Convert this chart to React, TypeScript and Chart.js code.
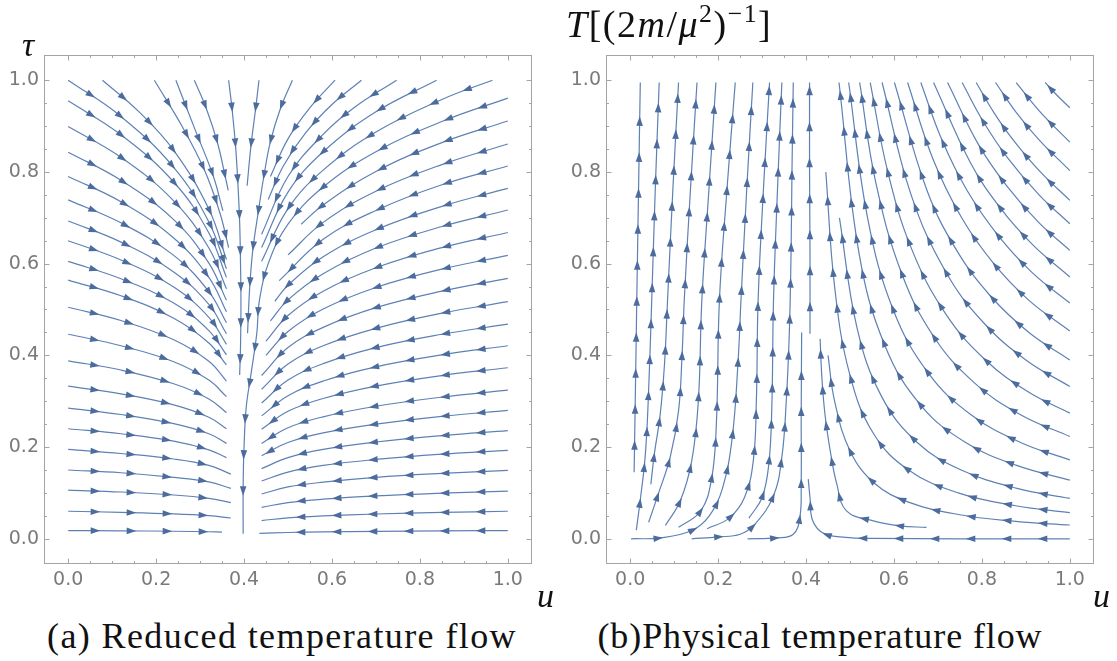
import React, { useEffect, useRef } from "react";
import { Chart, registerables } from "chart.js";
Chart.register(...registerables);

type Pt = [number, number];

const AXIS_MIN = -0.055;
const AXIS_MAX = 1.055;
const majorTicks = [0, 0.2, 0.4, 0.6, 0.8, 1.0];
const minorTicks = [0.05, 0.1, 0.15, 0.25, 0.3, 0.35, 0.45, 0.5, 0.55, 0.65, 0.7, 0.75, 0.85, 0.9, 0.95];

// ---------- (a) Reduced temperature flow : streamlines [u, tau] in flow order ----------
const reducedFromLeft: Pt[][] = [
  [[0, 1.0], [0.12, 0.921], [0.24, 0.81], [0.32, 0.691], [0.36, 0.589]],
  [[0, 0.955], [0.12, 0.881], [0.24, 0.778], [0.32, 0.667], [0.36, 0.57]],
  [[0, 0.899], [0.12, 0.832], [0.24, 0.737], [0.32, 0.634], [0.36, 0.545]],
  [[0, 0.843], [0.12, 0.782], [0.24, 0.696], [0.32, 0.601], [0.36, 0.52]],
  [[0, 0.79], [0.12, 0.735], [0.24, 0.656], [0.32, 0.57], [0.36, 0.495]],
  [[0, 0.739], [0.12, 0.689], [0.24, 0.618], [0.32, 0.539], [0.36, 0.471]],
  [[0, 0.693], [0.12, 0.647], [0.24, 0.582], [0.32, 0.511], [0.36, 0.447]],
  [[0, 0.65], [0.12, 0.608], [0.24, 0.549], [0.32, 0.483], [0.36, 0.424]],
  [[0, 0.605], [0.12, 0.567], [0.24, 0.514], [0.32, 0.454], [0.36, 0.401]],
  [[0, 0.564], [0.12, 0.53], [0.24, 0.481], [0.32, 0.427], [0.36, 0.379]],
  [[0, 0.505], [0.12, 0.476], [0.24, 0.434], [0.32, 0.387], [0.36, 0.344]],
  [[0, 0.446], [0.12, 0.421], [0.24, 0.386], [0.32, 0.346], [0.36, 0.31]],
  [[0, 0.388], [0.12, 0.368], [0.24, 0.338], [0.32, 0.305], [0.36, 0.275]],
  [[0, 0.333], [0.12, 0.316], [0.24, 0.292], [0.32, 0.265], [0.36, 0.24]],
  [[0, 0.285], [0.12, 0.271], [0.24, 0.251], [0.32, 0.229], [0.36, 0.208]],
  [[0, 0.24], [0.12, 0.229], [0.24, 0.213], [0.32, 0.194], [0.36, 0.177]],
  [[0, 0.195], [0.12, 0.186], [0.24, 0.174], [0.32, 0.16], [0.37, 0.141]],
  [[0, 0.15], [0.12, 0.144], [0.24, 0.134], [0.32, 0.124], [0.37, 0.11]],
  [[0, 0.106], [0.12, 0.102], [0.24, 0.0955], [0.32, 0.088], [0.37, 0.0789]],
  [[0, 0.06], [0.12, 0.0577], [0.24, 0.0544], [0.32, 0.0504], [0.37, 0.0453]],
  [[0, 0.018], [0.12, 0.0174], [0.24, 0.0164], [0.32, 0.0153], [0.35, 0.0146]],
];

const reducedFromTop: Pt[][] = [
  [[0.078, 1.0], [0.16, 0.932], [0.24, 0.847], [0.32, 0.719], [0.36, 0.609]],
  [[0.196, 1.0], [0.26, 0.898], [0.31, 0.804], [0.345, 0.711], [0.365, 0.635]],
  [[0.245, 1.0], [0.29, 0.889], [0.33, 0.791], [0.352, 0.715]],
  [[0.287, 1.0], [0.314, 0.939], [0.34, 0.862], [0.359, 0.782], [0.364, 0.76]],
  [[0.365, 1.0], [0.373, 0.935], [0.381, 0.853], [0.386, 0.775], [0.39, 0.691], [0.392, 0.6], [0.393, 0.52], [0.392, 0.42], [0.39, 0.357]],
  [[0.434, 1.0], [0.426, 0.935], [0.416, 0.859], [0.407, 0.77]],
  [[0.51, 1.0], [0.483, 0.939], [0.46, 0.866], [0.445, 0.79], [0.432, 0.71], [0.42, 0.63], [0.413, 0.55], [0.408, 0.448]],
  [[0.607, 1.0], [0.55, 0.94], [0.5, 0.872], [0.46, 0.79]],
  [[0.667, 1.0], [0.6, 0.947], [0.54, 0.885], [0.49, 0.814], [0.455, 0.74]],
  [[0.747, 1.0], [0.65, 0.94], [0.58, 0.882], [0.5, 0.79], [0.44, 0.664]],
  [[0.838, 1.0], [0.7, 0.931], [0.58, 0.844], [0.5, 0.756], [0.44, 0.635]],
  [[0.965, 1.0], [0.85, 0.958], [0.7, 0.887], [0.58, 0.804], [0.5, 0.72], [0.44, 0.605]],
];

const reducedFromRight: Pt[][] = [
  [[1, 0.961], [0.85, 0.91], [0.7, 0.844], [0.58, 0.767], [0.5, 0.686], [0.455, 0.6], [0.435, 0.52], [0.429, 0.448], [0.416, 0.36], [0.405, 0.287], [0.4, 0.2], [0.398, 0.113], [0.398, 0.011]],
  [[1, 0.911], [0.85, 0.864], [0.7, 0.801], [0.58, 0.728], [0.53, 0.686]],
  [[1, 0.861], [0.85, 0.816], [0.7, 0.758], [0.58, 0.69], [0.5, 0.619]],
  [[1, 0.813], [0.85, 0.772], [0.7, 0.716], [0.58, 0.653], [0.48, 0.563]],
  [[1, 0.764], [0.85, 0.725], [0.7, 0.674], [0.58, 0.615], [0.5, 0.553], [0.47, 0.518]],
  [[1, 0.717], [0.85, 0.681], [0.7, 0.634], [0.58, 0.578], [0.5, 0.521], [0.46, 0.475]],
  [[1, 0.668], [0.85, 0.635], [0.7, 0.591], [0.58, 0.54], [0.5, 0.487], [0.45, 0.431]],
  [[1, 0.618], [0.85, 0.588], [0.7, 0.548], [0.58, 0.501], [0.5, 0.452], [0.45, 0.4]],
  [[1, 0.568], [0.85, 0.54], [0.7, 0.504], [0.58, 0.461], [0.5, 0.417], [0.44, 0.356]],
  [[1, 0.517], [0.85, 0.492], [0.7, 0.459], [0.58, 0.421], [0.5, 0.381], [0.44, 0.326]],
  [[1, 0.468], [0.85, 0.446], [0.7, 0.417], [0.58, 0.382], [0.5, 0.346], [0.44, 0.296]],
  [[1, 0.421], [0.85, 0.401], [0.7, 0.375], [0.58, 0.344], [0.5, 0.312], [0.44, 0.268]],
  [[1, 0.373], [0.85, 0.356], [0.7, 0.333], [0.58, 0.306], [0.5, 0.278], [0.44, 0.239]],
  [[1, 0.324], [0.85, 0.309], [0.7, 0.289], [0.58, 0.266], [0.5, 0.242], [0.44, 0.208]],
  [[1, 0.28], [0.85, 0.267], [0.7, 0.25], [0.58, 0.231], [0.5, 0.21], [0.44, 0.181]],
  [[1, 0.236], [0.85, 0.225], [0.7, 0.211], [0.58, 0.195], [0.5, 0.177], [0.44, 0.153]],
  [[1, 0.193], [0.85, 0.1845], [0.7, 0.173], [0.58, 0.16], [0.5, 0.1455], [0.44, 0.126]],
  [[1, 0.149], [0.85, 0.1425], [0.7, 0.134], [0.58, 0.1235], [0.5, 0.113], [0.44, 0.0976]],
  [[1, 0.104], [0.85, 0.0995], [0.7, 0.0935], [0.58, 0.0864], [0.5, 0.0789], [0.44, 0.0685]],
  [[1, 0.06], [0.85, 0.0574], [0.7, 0.054], [0.58, 0.0499], [0.5, 0.0457], [0.44, 0.0397]],
  [[1, 0.018], [0.85, 0.0172], [0.7, 0.0162], [0.58, 0.015], [0.5, 0.0137], [0.435, 0.012]],
];

// ---------- (b) Physical temperature flow : streamlines [u, T] in flow order ----------
const physicalRising: Pt[][] = [
  [[0.009, 0.145], [0.012, 0.33], [0.015, 0.52], [0.019, 0.76], [0.023, 0.995]],
  [[0.014, 0.019], [0.023, 0.085], [0.034, 0.178], [0.041, 0.3], [0.049, 0.52], [0.057, 0.76], [0.066, 0.995]],
  [[0.047, 0.119], [0.055, 0.185], [0.068, 0.269], [0.078, 0.38], [0.085, 0.52], [0.097, 0.76], [0.11, 0.995]],
  [[0.042, 0.036], [0.064, 0.098], [0.091, 0.178], [0.11, 0.279], [0.118, 0.4], [0.123, 0.52], [0.137, 0.76], [0.152, 0.995]],
  [[0.08, 0.029], [0.114, 0.083], [0.14, 0.17], [0.155, 0.3], [0.163, 0.52], [0.179, 0.76], [0.195, 0.995]],
  [[0.11, 0.025], [0.16, 0.06], [0.185, 0.13], [0.196, 0.25], [0.203, 0.52], [0.22, 0.76], [0.239, 0.995]],
  [[0.002, 0.0], [0.07, 0.002], [0.14, 0.018], [0.18, 0.05], [0.21, 0.11], [0.232, 0.22], [0.245, 0.38], [0.252, 0.52], [0.265, 0.76], [0.279, 0.995]],
  [[0.175, 0.022], [0.225, 0.045], [0.26, 0.09], [0.28, 0.17], [0.287, 0.3], [0.291, 0.52], [0.303, 0.76], [0.317, 0.995]],
  [[0.27, 0.045], [0.3, 0.09], [0.315, 0.16], [0.322, 0.28], [0.326, 0.52], [0.335, 0.76], [0.345, 0.995]],
  [[0.14, 0.0], [0.2, 0.004], [0.25, 0.01], [0.284, 0.032], [0.326, 0.094], [0.345, 0.178], [0.355, 0.3], [0.362, 0.45], [0.366, 0.629], [0.368, 0.8], [0.371, 0.995]],
  [[0.267, 0.0], [0.333, 0.002], [0.371, 0.01], [0.386, 0.047], [0.389, 0.119], [0.389, 0.265], [0.39, 0.45]],
  [[0.409, 0.447], [0.409, 0.629], [0.408, 0.8], [0.408, 0.995]],
];

const physicalFromRight: Pt[][] = [
  [[1.0, 0.0], [0.75, 0.0], [0.55, 0.001], [0.49, 0.003], [0.44, 0.012], [0.415, 0.04], [0.409, 0.09], [0.405, 0.13]],
  [[0.674, 0.025], [0.614, 0.028], [0.553, 0.039], [0.492, 0.061], [0.47, 0.119], [0.455, 0.192], [0.443, 0.272], [0.436, 0.352], [0.432, 0.436]],
  [[1.0, 0.03], [0.877, 0.038], [0.746, 0.053], [0.633, 0.08], [0.557, 0.12], [0.501, 0.19], [0.465, 0.3], [0.45, 0.4]],
  [[1.0, 0.057], [0.877, 0.072], [0.746, 0.1], [0.633, 0.15], [0.553, 0.23], [0.499, 0.36], [0.465, 0.55], [0.445, 0.8]],
  [[1.0, 0.088], [0.88, 0.11], [0.753, 0.15], [0.653, 0.21], [0.572, 0.31], [0.516, 0.46], [0.476, 0.7]],
  [[1.0, 0.128], [0.879, 0.16], [0.763, 0.21], [0.662, 0.29], [0.58, 0.42], [0.521, 0.62], [0.475, 0.995]],
  [[1.0, 0.172], [0.888, 0.21], [0.776, 0.27], [0.679, 0.36], [0.598, 0.5], [0.54, 0.7], [0.497, 0.995]],
  [[1.0, 0.223], [0.889, 0.27], [0.783, 0.34], [0.691, 0.44], [0.617, 0.58], [0.558, 0.78], [0.522, 0.995]],
  [[1.0, 0.274], [0.906, 0.32], [0.808, 0.39], [0.718, 0.49], [0.641, 0.63], [0.586, 0.8], [0.546, 0.995]],
  [[1.0, 0.332], [0.9, 0.39], [0.805, 0.47], [0.719, 0.58], [0.639, 0.75], [0.573, 0.995]],
  [[1.0, 0.39], [0.907, 0.45], [0.819, 0.53], [0.742, 0.63], [0.675, 0.76], [0.601, 0.995]],
  [[1.0, 0.453], [0.907, 0.52], [0.827, 0.6], [0.754, 0.7], [0.688, 0.83], [0.631, 0.995]],
  [[1.0, 0.514], [0.915, 0.58], [0.838, 0.66], [0.766, 0.76], [0.709, 0.87], [0.661, 0.995]],
  [[1.0, 0.571], [0.917, 0.64], [0.843, 0.72], [0.774, 0.82], [0.69, 0.995]],
  [[1.0, 0.629], [0.929, 0.69], [0.856, 0.77], [0.792, 0.86], [0.722, 0.995]],
  [[1.0, 0.687], [0.93, 0.75], [0.859, 0.83], [0.803, 0.91], [0.755, 0.995]],
  [[1.0, 0.738], [0.933, 0.8], [0.871, 0.87], [0.827, 0.93], [0.787, 0.995]],
  [[1.0, 0.803], [0.93, 0.87], [0.878, 0.93], [0.831, 0.995]],
  [[1.0, 0.865], [0.943, 0.92], [0.907, 0.96], [0.878, 0.995]],
  [[1.0, 0.94], [0.968, 0.97], [0.944, 0.995]],
];

// ---------- styling ----------
const LINE_COLOR = "rgb(94,129,181)";
const ARROW_COLOR = "rgb(76,108,158)";
const FRAME_COLOR = "#a4a4a4";
const TICK_LABEL_COLOR = "#7a7a7a";

function drawArrow(ctx: CanvasRenderingContext2D, x: number, y: number, ang: number) {
  const c = Math.cos(ang), s = Math.sin(ang);
  const front = 5, back = 4.5, half = 3.3;
  ctx.beginPath();
  ctx.moveTo(x + c * front, y + s * front);
  ctx.lineTo(x - c * back - s * half, y - s * back + c * half);
  ctx.lineTo(x - c * back + s * half, y - s * back - c * half);
  ctx.closePath();
  ctx.fill();
}

const arrowPlugin = {
  id: "streamArrows",
  afterDatasetsDraw(chart: any) {
    const ctx: CanvasRenderingContext2D = chart.ctx;
    ctx.save();
    ctx.fillStyle = ARROW_COLOR;
    const FIRST = 27, SPACING = 36, END_GAP = 8;
    chart.data.datasets.forEach((_: any, di: number) => {
      const meta = chart.getDatasetMeta(di);
      if (meta.dataset && meta.dataset.updateControlPoints) {
        meta.dataset.updateControlPoints(chart.chartArea, "x");
      }
      const pts: any[] = meta.data;
      if (!pts || pts.length < 2) return;
      const poly: number[][] = [[pts[0].x, pts[0].y]];
      for (let i = 0; i < pts.length - 1; i++) {
        const a = pts[i], b = pts[i + 1];
        const c1x = a.cp2x ?? a.x, c1y = a.cp2y ?? a.y;
        const c2x = b.cp1x ?? b.x, c2y = b.cp1y ?? b.y;
        for (let k = 1; k <= 20; k++) {
          const t = k / 20, m = 1 - t;
          const x = m * m * m * a.x + 3 * m * m * t * c1x + 3 * m * t * t * c2x + t * t * t * b.x;
          const y = m * m * m * a.y + 3 * m * m * t * c1y + 3 * m * t * t * c2y + t * t * t * b.y;
          poly.push([x, y]);
        }
      }
      const cum = [0];
      for (let i = 1; i < poly.length; i++) {
        cum.push(cum[i - 1] + Math.hypot(poly[i][0] - poly[i - 1][0], poly[i][1] - poly[i - 1][1]));
      }
      const total = cum[cum.length - 1];
      let j = 1;
      for (let d = FIRST; d < total - END_GAP; d += SPACING) {
        while (j < poly.length - 1 && cum[j] < d) j++;
        const seg = cum[j] - cum[j - 1] || 1;
        const f = (d - cum[j - 1]) / seg;
        const x = poly[j - 1][0] + (poly[j][0] - poly[j - 1][0]) * f;
        const y = poly[j - 1][1] + (poly[j][1] - poly[j - 1][1]) * f;
        const ang = Math.atan2(poly[j][1] - poly[j - 1][1], poly[j][0] - poly[j - 1][0]);
        drawArrow(ctx, x, y, ang);
      }
    });
    ctx.restore();
  },
};

const framePlugin = {
  id: "frameTicks",
  afterDraw(chart: any) {
    const ctx: CanvasRenderingContext2D = chart.ctx;
    const { left, right, top, bottom } = chart.chartArea;
    const xs = chart.scales.x, ys = chart.scales.y;
    ctx.save();
    ctx.strokeStyle = FRAME_COLOR;
    ctx.lineWidth = 1;
    ctx.strokeRect(Math.round(left) + 0.5, Math.round(top) + 0.5, Math.round(right - left) - 1, Math.round(bottom - top) - 1);
    const tick = (v: number, len: number) => {
      const px = Math.round(xs.getPixelForValue(v)) + 0.5;
      const py = Math.round(ys.getPixelForValue(v)) + 0.5;
      ctx.beginPath();
      ctx.moveTo(px, bottom); ctx.lineTo(px, bottom - len);
      ctx.moveTo(px, top); ctx.lineTo(px, top + len);
      ctx.moveTo(left, py); ctx.lineTo(left + len, py);
      ctx.moveTo(right, py); ctx.lineTo(right - len, py);
      ctx.stroke();
    };
    majorTicks.forEach((v) => tick(v, 5.5));
    minorTicks.forEach((v) => tick(v, 3));
    ctx.restore();
  },
};

function toDatasets(lines: Pt[][]) {
  return lines.map((line) => ({
    data: line.map(([x, y]) => ({ x, y })),
    borderColor: LINE_COLOR,
    borderWidth: 1.2,
    pointRadius: 0,
    pointHoverRadius: 0,
    tension: 0.4,
    fill: false,
  }));
}

function makeConfig(lines: Pt[][], yAxisWidth: number, padRight: number, xAxisHeight: number): any {
  const tickFont = { family: '"DejaVu Sans", sans-serif', size: 19 };
  return {
    type: "line",
    data: { datasets: toDatasets(lines) },
    options: {
      animation: false,
      responsive: false,
      devicePixelRatio: 1,
      events: [],
      layout: { padding: { top: 55, right: padRight, left: 0, bottom: 0 } },
      plugins: { legend: { display: false }, tooltip: { enabled: false } },
      scales: {
        x: {
          type: "linear",
          min: AXIS_MIN,
          max: AXIS_MAX,
          grid: { display: false, drawTicks: false },
          border: { display: false },
          afterBuildTicks: (s: any) => { s.ticks = majorTicks.map((v) => ({ value: v })); },
          afterFit: (s: any) => { s.height = xAxisHeight; },
          ticks: { padding: 5, color: TICK_LABEL_COLOR, font: tickFont, maxRotation: 0, autoSkip: false, callback: (v: any) => Number(v).toFixed(1) },
        },
        y: {
          type: "linear",
          min: AXIS_MIN,
          max: AXIS_MAX,
          grid: { display: false, drawTicks: false },
          border: { display: false },
          afterBuildTicks: (s: any) => { s.ticks = majorTicks.map((v) => ({ value: v })); },
          afterFit: (s: any) => { s.width = yAxisWidth; },
          ticks: { padding: 5, color: TICK_LABEL_COLOR, font: tickFont, autoSkip: false, callback: (v: any) => Number(v).toFixed(1) },
        },
      },
    },
    plugins: [framePlugin, arrowPlugin],
  };
}

const serif = '"Liberation Serif", "Times New Roman", serif';

export default function App() {
  const refA = useRef<HTMLCanvasElement | null>(null);
  const refB = useRef<HTMLCanvasElement | null>(null);

  useEffect(() => {
    const a = new Chart(refA.current as HTMLCanvasElement, makeConfig([...reducedFromLeft, ...reducedFromTop, ...reducedFromRight], 44, 28, 36));
    const b = new Chart(refB.current as HTMLCanvasElement, makeConfig([...physicalRising, ...physicalFromRight], 46, 23, 36));
    return () => { a.destroy(); b.destroy(); };
  }, []);

  const sup: React.CSSProperties = { fontSize: "0.68em", verticalAlign: "0.6em", lineHeight: 0 };

  return (
    <div style={{ position: "fixed", left: 0, top: 0, width: 1117, height: 661, background: "#fff", overflow: "hidden" }}>
      <canvas ref={refA} width={560} height={600} style={{ position: "absolute", left: 0, top: 0, width: 560, height: 600 }} />
      <canvas ref={refB} width={557} height={600} style={{ position: "absolute", left: 560, top: 0, width: 557, height: 600 }} />
      <div style={{ position: "absolute", left: 22, top: 27, fontFamily: serif, fontStyle: "italic", fontSize: 34, lineHeight: "36px", color: "#111" }}>τ</div>
      <div style={{ position: "absolute", left: 566, top: 3, fontFamily: serif, fontSize: 38, lineHeight: "42px", whiteSpace: "nowrap", letterSpacing: 1.5, color: "#111" }}>
        <i>T</i>[(2<i>m</i>/<i>μ</i><span style={sup}>2</span>)<span style={sup}>−1</span>]
      </div>
      <div style={{ position: "absolute", left: 537, top: 578, fontFamily: serif, fontStyle: "italic", fontSize: 34, lineHeight: "36px", color: "#111" }}>u</div>
      <div style={{ position: "absolute", left: 1093, top: 578, fontFamily: serif, fontStyle: "italic", fontSize: 34, lineHeight: "36px", color: "#111" }}>u</div>
      <div style={{ position: "absolute", left: -18, width: 600, top: 618, textAlign: "center", fontFamily: serif, fontSize: 36, lineHeight: "36px", letterSpacing: 1.4, whiteSpace: "nowrap", color: "#111" }}>
        (a) Reduced temperature flow
      </div>
      <div style={{ position: "absolute", left: 520, width: 600, top: 618, textAlign: "center", fontFamily: serif, fontSize: 36, lineHeight: "36px", letterSpacing: 0.9, whiteSpace: "nowrap", color: "#111" }}>
        (b)Physical temperature flow
      </div>
    </div>
  );
}
